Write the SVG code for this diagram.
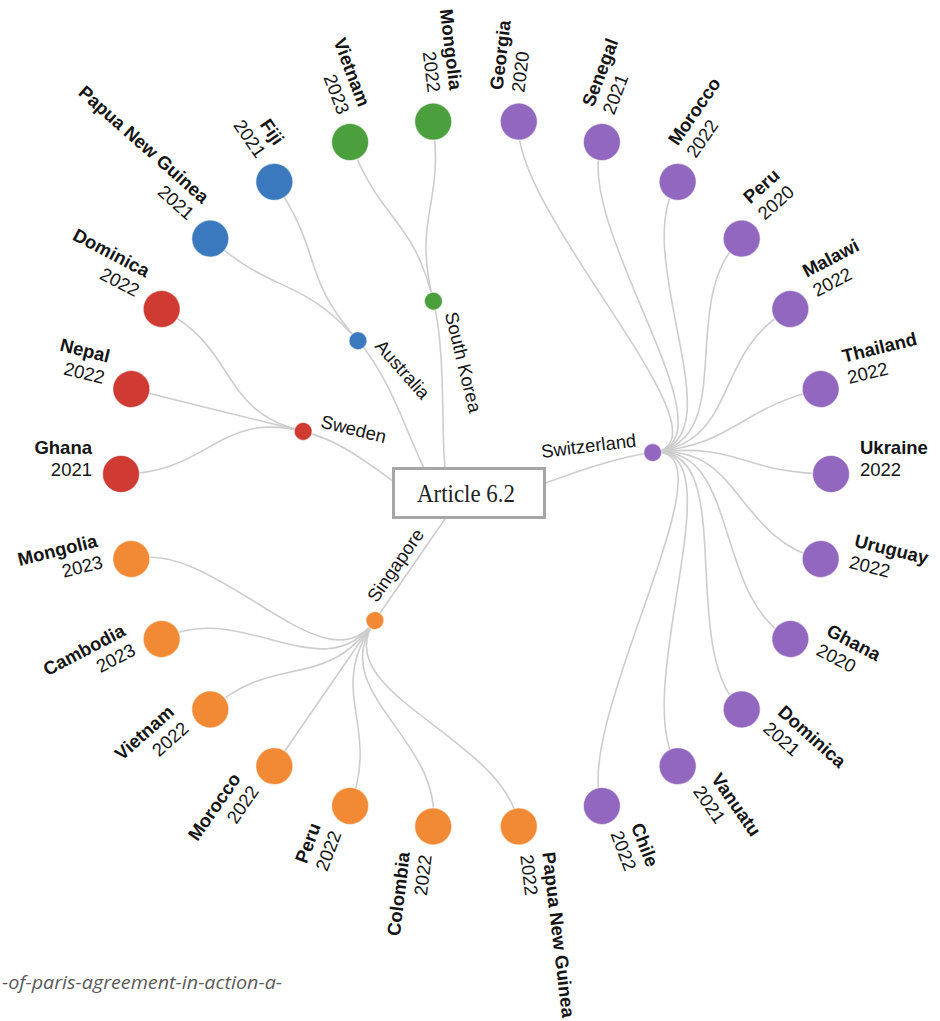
<svg xmlns="http://www.w3.org/2000/svg" width="940" height="1021" viewBox="0 0 940 1021">
<style>
.link{fill:none;stroke:#cdcdcd;stroke-width:1.6}
text{font-family:"Liberation Sans",Arial,sans-serif;font-size:18.5px;fill:#151515}
.b{font-weight:bold}
.l{text-anchor:end}
.r{text-anchor:start}
circle{stroke:#ffffff;stroke-opacity:0.55;stroke-width:1.2}
.pu{fill:#9167bf}.or{fill:#f28a35}.gr{fill:#4b9f3c}.bl{fill:#3a79bd}.re{fill:#cf3a33}
</style>
<rect width="940" height="1021" fill="#ffffff"/>
<g id="connectors">
<path class="link" d="M476,474 C425.44,547.25 564.35,463.27 652.70,452.54"/>
<path class="link" d="M476,474 C425.44,547.25 425.44,547.25 374.89,620.49"/>
<path class="link" d="M476,474 C425.44,547.25 389.59,452.70 303.17,431.40"/>
<path class="link" d="M476,474 C425.44,547.25 416.98,407.38 357.96,340.77"/>
<path class="link" d="M476,474 C425.44,547.25 454.70,387.59 433.40,301.17"/>
<path class="link" d="M652.70,452.54 C740.56,441.88 508.12,209.44 518.79,121.59"/>
<path class="link" d="M652.70,452.54 C740.56,441.88 570.50,224.82 601.88,142.07"/>
<path class="link" d="M652.70,452.54 C740.56,441.88 627.39,254.68 677.66,181.84"/>
<path class="link" d="M652.70,452.54 C740.56,441.88 675.48,297.28 741.72,238.59"/>
<path class="link" d="M652.70,452.54 C740.56,441.88 711.98,350.15 790.34,309.02"/>
<path class="link" d="M652.70,452.54 C740.56,441.88 734.76,410.22 820.68,389.04"/>
<path class="link" d="M652.70,452.54 C740.56,441.88 742.50,474 831,474"/>
<path class="link" d="M652.70,452.54 C740.56,441.88 734.76,537.78 820.68,558.96"/>
<path class="link" d="M652.70,452.54 C740.56,441.88 711.98,597.85 790.34,638.98"/>
<path class="link" d="M652.70,452.54 C740.56,441.88 675.48,650.72 741.72,709.41"/>
<path class="link" d="M652.70,452.54 C740.56,441.88 627.39,693.32 677.66,766.16"/>
<path class="link" d="M652.70,452.54 C740.56,441.88 570.50,723.18 601.88,805.93"/>
<path class="link" d="M374.89,620.49 C324.61,693.32 508.12,738.56 518.79,826.41"/>
<path class="link" d="M374.89,620.49 C324.61,693.32 443.88,738.56 433.21,826.41"/>
<path class="link" d="M374.89,620.49 C324.61,693.32 381.50,723.18 350.12,805.93"/>
<path class="link" d="M374.89,620.49 C324.61,693.32 324.61,693.32 274.34,766.16"/>
<path class="link" d="M374.89,620.49 C324.61,693.32 276.52,650.72 210.28,709.41"/>
<path class="link" d="M374.89,620.49 C324.61,693.32 240.02,597.85 161.66,638.98"/>
<path class="link" d="M374.89,620.49 C324.61,693.32 217.24,537.78 131.32,558.96"/>
<path class="link" d="M303.17,431.40 C217.25,410.22 209.50,474 121,474"/>
<path class="link" d="M303.17,431.40 C217.25,410.22 217.24,410.22 131.32,389.04"/>
<path class="link" d="M303.17,431.40 C217.25,410.22 240.02,350.15 161.66,309.02"/>
<path class="link" d="M357.96,340.77 C299.28,274.52 276.52,297.28 210.28,238.59"/>
<path class="link" d="M357.96,340.77 C299.28,274.52 324.61,254.68 274.34,181.84"/>
<path class="link" d="M433.40,301.17 C412.22,215.24 381.50,224.82 350.12,142.07"/>
<path class="link" d="M433.40,301.17 C412.22,215.24 443.88,209.44 433.21,121.59"/>
</g>
<g id="n-root">
<rect x="393.5" y="468.5" width="151" height="49" fill="#ffffff" stroke="#a6a6a6" stroke-width="3"/>
<text x="466" y="502" text-anchor="middle" style="font-family:'Liberation Serif','Times New Roman',serif;font-size:26px;fill:#222" textLength="98" lengthAdjust="spacingAndGlyphs">Article 6.2</text>
</g>
<g id="n-switzerland" transform="translate(652.70,452.54) rotate(-6.923)"><circle r="9" class="pu"/><text x="-15" y="-8" class="l">Switzerland</text></g>
<g id="n-singapore" transform="translate(374.89,620.49) rotate(-55.385)"><circle r="9" class="or"/><text x="15" y="-8" class="r">Singapore</text></g>
<g id="n-sweden" transform="translate(303.17,431.40) rotate(13.846)"><circle r="9" class="re"/><text x="15" y="-8" class="r">Sweden</text></g>
<g id="n-australia" transform="translate(357.96,340.77) rotate(48.462)"><circle r="9" class="bl"/><text x="15" y="-8" class="r">Australia</text></g>
<g id="n-southkorea" transform="translate(433.40,301.17) rotate(76.154)"><circle r="9" class="gr"/><text x="15" y="-8" class="r">South Korea</text></g>
<g id="n-ukraine" transform="translate(831,474)"><circle r="18.5" class="pu"/><text class="r"><tspan x="29" y="-20" class="b">Ukraine</tspan><tspan x="29" y="2">2022</tspan></text></g>
<g id="n-uruguay" transform="translate(820.68,558.96) rotate(13.846)"><circle r="18.5" class="pu"/><text class="r"><tspan x="29" y="-20" class="b">Uruguay</tspan><tspan x="29" y="2">2022</tspan></text></g>
<g id="n-ghana-ch" transform="translate(790.34,638.98) rotate(27.692)"><circle r="18.5" class="pu"/><text class="r"><tspan x="29" y="-20" class="b">Ghana</tspan><tspan x="29" y="2">2020</tspan></text></g>
<g id="n-dominica-ch" transform="translate(741.72,709.41) rotate(41.538)"><circle r="18.5" class="pu"/><text class="r"><tspan x="29" y="-20" class="b">Dominica</tspan><tspan x="29" y="2">2021</tspan></text></g>
<g id="n-vanuatu" transform="translate(677.66,766.16) rotate(55.385)"><circle r="18.5" class="pu"/><text class="r"><tspan x="29" y="-20" class="b">Vanuatu</tspan><tspan x="29" y="2">2021</tspan></text></g>
<g id="n-chile" transform="translate(601.88,805.93) rotate(69.231)"><circle r="18.5" class="pu"/><text class="r"><tspan x="29" y="-20" class="b">Chile</tspan><tspan x="29" y="2">2022</tspan></text></g>
<g id="n-png-sg" transform="translate(518.79,826.41) rotate(83.077)"><circle r="18.5" class="or"/><text class="r"><tspan x="29" y="-20" class="b">Papua New Guinea</tspan><tspan x="29" y="2">2022</tspan></text></g>
<g id="n-colombia" transform="translate(433.21,826.41) rotate(-83.077)"><circle r="18.5" class="or"/><text class="l"><tspan x="-29" y="-20" class="b">Colombia</tspan><tspan x="-29" y="2">2022</tspan></text></g>
<g id="n-peru-sg" transform="translate(350.12,805.93) rotate(-69.231)"><circle r="18.5" class="or"/><text class="l"><tspan x="-29" y="-20" class="b">Peru</tspan><tspan x="-29" y="2">2022</tspan></text></g>
<g id="n-morocco-sg" transform="translate(274.34,766.16) rotate(-55.385)"><circle r="18.5" class="or"/><text class="l"><tspan x="-29" y="-20" class="b">Morocco</tspan><tspan x="-29" y="2">2022</tspan></text></g>
<g id="n-vietnam-sg" transform="translate(210.28,709.41) rotate(-41.538)"><circle r="18.5" class="or"/><text class="l"><tspan x="-29" y="-20" class="b">Vietnam</tspan><tspan x="-29" y="2">2022</tspan></text></g>
<g id="n-cambodia" transform="translate(161.66,638.98) rotate(-27.692)"><circle r="18.5" class="or"/><text class="l"><tspan x="-29" y="-20" class="b">Cambodia</tspan><tspan x="-29" y="2">2023</tspan></text></g>
<g id="n-mongolia-sg" transform="translate(131.32,558.96) rotate(-13.846)"><circle r="18.5" class="or"/><text class="l"><tspan x="-29" y="-20" class="b">Mongolia</tspan><tspan x="-29" y="2">2023</tspan></text></g>
<g id="n-ghana-se" transform="translate(121,474)"><circle r="18.5" class="re"/><text class="l"><tspan x="-29" y="-20" class="b">Ghana</tspan><tspan x="-29" y="2">2021</tspan></text></g>
<g id="n-nepal" transform="translate(131.32,389.04) rotate(13.846)"><circle r="18.5" class="re"/><text class="l"><tspan x="-29" y="-20" class="b">Nepal</tspan><tspan x="-29" y="2">2022</tspan></text></g>
<g id="n-dominica-se" transform="translate(161.66,309.02) rotate(27.692)"><circle r="18.5" class="re"/><text class="l"><tspan x="-29" y="-20" class="b">Dominica</tspan><tspan x="-29" y="2">2022</tspan></text></g>
<g id="n-png-au" transform="translate(210.28,238.59) rotate(41.538)"><circle r="18.5" class="bl"/><text class="l"><tspan x="-29" y="-20" class="b">Papua New Guinea</tspan><tspan x="-29" y="2">2021</tspan></text></g>
<g id="n-fiji" transform="translate(274.34,181.84) rotate(55.385)"><circle r="18.5" class="bl"/><text class="l"><tspan x="-29" y="-20" class="b">Fiji</tspan><tspan x="-29" y="2">2021</tspan></text></g>
<g id="n-vietnam-kr" transform="translate(350.12,142.07) rotate(69.231)"><circle r="18.5" class="gr"/><text class="l"><tspan x="-29" y="-20" class="b">Vietnam</tspan><tspan x="-29" y="2">2023</tspan></text></g>
<g id="n-mongolia-kr" transform="translate(433.21,121.59) rotate(83.077)"><circle r="18.5" class="gr"/><text class="l"><tspan x="-29" y="-20" class="b">Mongolia</tspan><tspan x="-29" y="2">2022</tspan></text></g>
<g id="n-georgia" transform="translate(518.79,121.59) rotate(-83.077)"><circle r="18.5" class="pu"/><text class="r"><tspan x="29" y="-20" class="b">Georgia</tspan><tspan x="29" y="2">2020</tspan></text></g>
<g id="n-senegal" transform="translate(601.88,142.07) rotate(-69.231)"><circle r="18.5" class="pu"/><text class="r"><tspan x="29" y="-20" class="b">Senegal</tspan><tspan x="29" y="2">2021</tspan></text></g>
<g id="n-morocco-ch" transform="translate(677.66,181.84) rotate(-55.385)"><circle r="18.5" class="pu"/><text class="r"><tspan x="29" y="-20" class="b">Morocco</tspan><tspan x="29" y="2">2022</tspan></text></g>
<g id="n-peru-ch" transform="translate(741.72,238.59) rotate(-41.538)"><circle r="18.5" class="pu"/><text class="r"><tspan x="29" y="-20" class="b">Peru</tspan><tspan x="29" y="2">2020</tspan></text></g>
<g id="n-malawi" transform="translate(790.34,309.02) rotate(-27.692)"><circle r="18.5" class="pu"/><text class="r"><tspan x="29" y="-20" class="b">Malawi</tspan><tspan x="29" y="2">2022</tspan></text></g>
<g id="n-thailand" transform="translate(820.68,389.04) rotate(-13.846)"><circle r="18.5" class="pu"/><text class="r"><tspan x="29" y="-20" class="b">Thailand</tspan><tspan x="29" y="2">2022</tspan></text></g>
<text x="2" y="989" style="font-family:'Open Sans','Liberation Sans',sans-serif;font-style:italic;font-size:19px;fill:#5a5a5a" textLength="280" lengthAdjust="spacingAndGlyphs">-of-paris-agreement-in-action-a-</text>
</svg>
